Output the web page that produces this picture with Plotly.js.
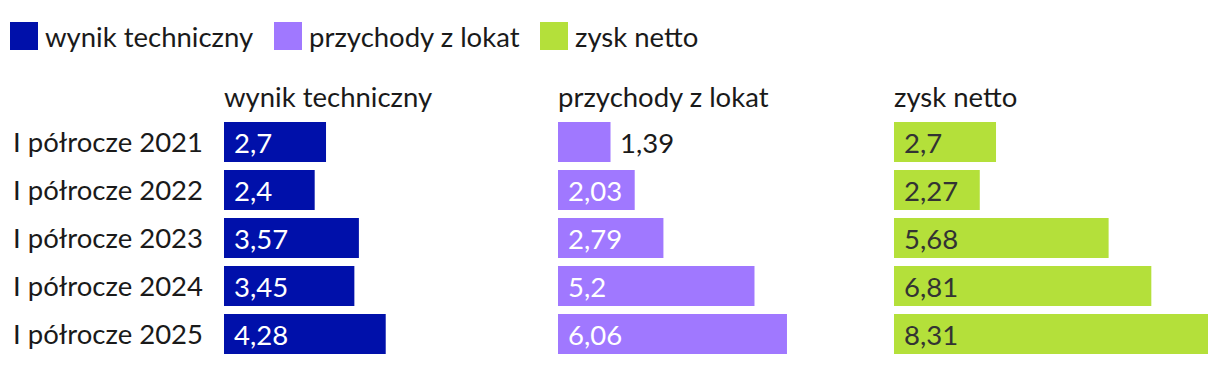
<!DOCTYPE html>
<html><head><meta charset="utf-8">
<script src="https://cdn.plot.ly/plotly-3.0.1.min.js"></script>
<style>html,body{margin:0;padding:0;background:#fff}</style>
</head><body><div id="chart" style="width:1220px;height:366px"></div>
<script>
const categories = ["I półrocze 2021","I półrocze 2022","I półrocze 2023","I półrocze 2024","I półrocze 2025"];
const seriesNames = ["wynik techniczny","przychody z lokat","zysk netto"];
const wynikTechniczny = [2.7, 2.4, 3.57, 3.45, 4.28];
const przychodyZLokat = [1.39, 2.03, 2.79, 5.2, 6.06];
const zyskNetto = [2.7, 2.27, 5.68, 6.81, 8.31];
const seriesValues = [wynikTechniczny, przychodyZLokat, zyskNetto];
const colors = ["#0010AA", "#A078FF", "#B4E03A"];
const insideTextColors = ["#ffffff", "#ffffff", "#333333"];

const W = 1220, H = 366;
const FONT = "Lato, 'Open Sans', sans-serif";
const FS = 27.5;
const px = v => v / W, py = v => 1 - v / H;
const domains = [[224, 538], [558, 872], [894, 1208]];
const xMax = 8.31;
const fmt = v => String(v).replace('.', ',');

const traces = [];
const annotations = [];
const shapes = [];
const layout = {
  width: W, height: H, margin: {l: 0, r: 0, t: 0, b: 0},
  paper_bgcolor: "#fff", plot_bgcolor: "#fff",
  font: {family: FONT, size: FS, color: "#1a1a1a"},
  showlegend: false, bargap: 0.17,
};
const legendX = [10, 274, 540];
seriesValues.forEach((vals, i) => {
  const ax = i === 0 ? '' : String(i + 1);
  traces.push({
    type: 'bar', orientation: 'h', x: vals, y: categories, name: seriesNames[i],
    marker: {color: colors[i]}, xaxis: 'x' + ax, yaxis: 'y' + ax,
    hoverinfo: 'x+y'
  });
  layout['xaxis' + ax] = {
    domain: [px(domains[i][0]), px(domains[i][1])], range: [0, xMax],
    visible: false, fixedrange: true, anchor: 'y' + ax
  };
  layout['yaxis' + ax] = {
    domain: [8 / H, 248 / H], type: 'category', autorange: 'reversed',
    anchor: 'x' + ax, showgrid: false, zeroline: false, showline: false,
    ticks: '', showticklabels: i === 0, ticklabelstandoff: 20,
    tickfont: {family: FONT, size: FS, color: "#1a1a1a"}
  };
  // panel titles
  annotations.push({
    xref: 'paper', yref: 'paper', x: px(domains[i][0]), y: py(97),
    xanchor: 'left', yanchor: 'middle', xshift: -2, showarrow: false,
    text: seriesNames[i], font: {family: FONT, size: FS, color: "#1a1a1a"}
  });
  // value labels
  vals.forEach((v, j) => {
    const outside = v < 1.6;
    annotations.push({
      xref: 'x' + ax, yref: 'y' + ax, x: outside ? v : 0, y: categories[j],
      xanchor: 'left', yanchor: 'middle', xshift: outside ? 7 : 8, showarrow: false,
      text: fmt(v),
      font: {family: FONT, size: FS, color: outside ? "#1a1a1a" : insideTextColors[i]}
    });
  });
  // legend
  shapes.push({
    type: 'rect', xref: 'paper', yref: 'paper', line: {width: 0},
    x0: px(legendX[i]), x1: px(legendX[i] + 28), y0: py(50), y1: py(22),
    fillcolor: colors[i]
  });
  annotations.push({
    xref: 'paper', yref: 'paper', x: px(legendX[i] + 33), y: py(36),
    xanchor: 'left', yanchor: 'middle', showarrow: false,
    text: seriesNames[i], font: {family: FONT, size: FS, color: "#1a1a1a"}
  });
});
layout.annotations = annotations;
layout.shapes = shapes;
Plotly.newPlot('chart', traces, layout, {displayModeBar: false, staticPlot: true});
</script></body></html>
